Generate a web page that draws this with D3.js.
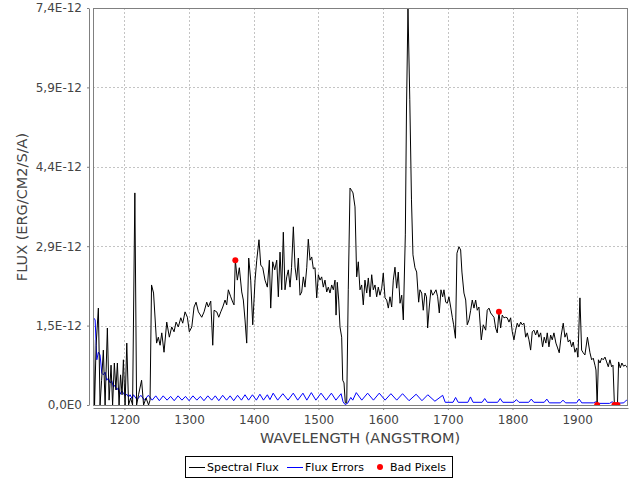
<!DOCTYPE html>
<html><head><meta charset="utf-8">
<script src="https://cdn.jsdelivr.net/npm/d3@7"></script>
<style>body{margin:0;background:#fff}svg{display:block}text{font-family:"DejaVu Sans",sans-serif}</style>
</head><body><svg id="c" width="640" height="480"></svg>
<script>
// ---- data (flux in units of 1E-12 erg/cm2/s/A) ----
const xTicks = [1200,1300,1400,1500,1600,1700,1800,1900];
const yTickValues = [0,1.475,2.95,4.425,5.9,7.375];
const yTickLabels = ["0,0E0","1,5E-12","2,9E-12","4,4E-12","5,9E-12","7,4E-12"];
const seriesNames = ["Spectral Flux","Flux Errors","Bad Pixels"];

const fluxWave = [1152.4,1153.9,1156.3,1159.8,1162.4,1164.8,1167.5,1170.2,1173.7,1176.4,
1179.4,1181.8,1184.5,1186.9,1189.2,1191.8,1194.1,1196.4,1198.5,1201.1,
1203.7,1206.5,1209.6,1212.7,1216.2,1218.9,1221.9,1226.6,1229.7,1233.5,
1237.4,1239.7,1242.0,1245.1,1249.8,1252.5,1255.2,1257.8,1261.3,1265.5,
1269.5,1273.2,1276.8,1279.9,1283.4,1287.2,1290.2,1293.8,1297.4,1300.4,
1304.2,1307.7,1310.8,1314.4,1319.6,1323.2,1327.3,1329.8,1333.5,1336.6,
1338.6,1342.8,1345.9,1349.0,1352.1,1355.6,1358.2,1360.7,1364.4,1367.5,
1369.5,1371.5,1374.6,1377.7,1381.4,1383.9,1386.5,1389.1,1392.2,1395.3,
1398.4,1402.0,1404.6,1408.1,1410.8,1413.9,1417.4,1421.0,1424.1,1426.2,
1429.3,1432.4,1435.5,1438.0,1440.6,1443.2,1445.7,1448.3,1451.0,1453.4,
1456.1,1458.4,1461.2,1463.8,1466.4,1468.9,1471.5,1474.1,1476.6,1479.2,
1481.9,1484.3,1487.0,1489.6,1492.1,1494.7,1497.3,1499.8,1502.4,1505.0,
1507.5,1510.1,1512.8,1515.2,1517.9,1520.5,1523.0,1525.6,1527.2,1529.1,
1531.3,1533.3,1535.9,1537.5,1539.5,1541.5,1543.7,1546.1,1548.8,1551.1,
1553.4,1556.5,1559.1,1561.6,1564.2,1566.8,1569.3,1571.9,1574.6,1577.1,
1579.7,1582.3,1584.8,1587.4,1590.0,1592.5,1595.1,1597.8,1600.2,1602.9,
1605.5,1608.0,1610.6,1613.2,1615.7,1618.3,1620.9,1623.4,1626.1,1628.7,
1631.2,1634.3,1636.1,1638.4,1641.2,1643.8,1646.1,1649.2,1651.8,1654.9,
1656.9,1659.6,1662.0,1664.7,1667.0,1668.8,1671.3,1673.9,1676.6,1679.0,
1681.7,1684.3,1686.8,1689.4,1692.0,1694.0,1696.7,1699.1,1701.7,1704.4,
1706.9,1709.0,1711.8,1714.1,1717.2,1719.8,1721.8,1724.9,1727.6,1730.0,
1732.7,1735.3,1737.8,1740.4,1743.0,1745.5,1748.1,1751.7,1754.8,1758.5,
1760.9,1763.6,1766.2,1768.7,1771.3,1773.9,1776.4,1779.0,1781.6,1784.1,
1786.7,1789.4,1791.8,1794.5,1797.1,1799.6,1802.2,1804.8,1807.3,1809.9,
1812.6,1815.0,1817.7,1820.3,1822.8,1825.4,1828.0,1830.5,1833.1,1835.7,
1838.2,1840.8,1843.5,1846.5,1849.0,1851.6,1853.7,1856.3,1858.9,1861.4,
1864.0,1867.1,1869.7,1872.2,1875.3,1878.4,1881.0,1883.6,1886.1,1888.7,
1891.4,1893.8,1896.5,1899.1,1901.1,1904.2,1906.8,1909.3,1911.9,1915.8,
1919.7,1922.3,1924.8,1927.4,1929.0,1930.8,1932.8,1935.2,1937.8,1940.2,
1942.9,1945.5,1948.0,1950.6,1953.2,1955.3,1957.5,1962.2,1964.0,1966.5,
1969.1,1971.7,1974.2,1976.8,1979.1];
const fluxE12 = [1.21,0,1.11,1.80,0,0.46,1.02,0,1.43,0.09,
0.74,0,0.78,0.28,0.78,0,0.56,0.19,0.84,0,
1.15,0,0.13,0,3.94,0,0.19,0.46,0,0.13,
0,0.09,2.23,2.08,1.15,1.26,1.11,1.34,0.98,1.54,
1.26,1.45,1.36,1.54,1.45,1.62,1.52,1.73,1.63,1.36,
1.45,1.82,1.91,1.73,1.63,1.73,1.91,1.82,1.93,1.11,
1.76,1.73,1.63,1.73,1.82,1.95,1.86,2.14,2.01,1.91,
1.86,2.69,2.32,2.55,2.10,1.95,1.58,1.15,2.73,2.32,
1.49,2.32,2.69,3.07,2.60,2.55,2.32,2.19,2.69,1.80,
2.66,2.51,2.69,2.01,2.84,2.14,3.21,2.14,2.38,2.51,
2.19,2.55,3.31,2.56,2.32,2.73,2.04,2.10,2.38,2.19,
2.55,3.08,2.69,2.75,2.53,2.55,1.99,2.42,2.32,2.38,
2.19,2.32,2.10,2.19,2.08,2.23,2.14,2.32,1.67,2.28,
1.95,1.45,1.26,0.46,0.41,0.04,0.04,2.14,4.03,3.99,
3.94,3.68,2.38,2.66,2.14,2.23,1.86,2.32,2.08,2.36,
2.01,2.42,2.14,2.23,2.01,2.19,2.04,2.17,2.45,1.99,
1.95,1.80,2.01,1.82,2.32,2.56,2.17,2.47,1.89,2.04,
1.58,3.16,5.48,7.37,5.67,3.81,2.79,2.55,2.47,1.91,
2.14,2.08,1.76,2.08,2.01,1.43,1.82,2.14,2.04,2.08,
2.14,2.01,1.71,2.14,2.01,2.14,1.91,1.89,2.01,1.82,
1.63,1.49,1.24,2.82,2.94,2.88,2.47,2.08,1.95,1.49,
1.58,1.76,1.95,1.80,1.95,1.76,1.82,1.21,1.49,1.39,
1.76,1.80,1.71,1.67,1.63,1.43,1.34,1.73,1.43,1.67,
1.62,1.63,1.62,1.54,1.62,1.36,1.21,1.39,1.52,1.45,
1.54,1.49,1.52,1.26,1.34,1.21,1.02,1.36,1.39,1.30,
1.39,1.26,1.34,1.08,1.26,1.15,1.34,1.08,1.30,1.21,
1.34,1.15,1.06,0.97,1.30,1.52,1.26,1.34,1.17,1.21,
1.08,1.17,0.98,1.06,0.89,1.99,1.02,0.97,0.93,1.26,
0.97,0.84,0.87,0.74,0.65,0,0.84,0.78,0.87,0.84,
0.89,0.80,0.71,0.84,0.71,0.74,0,0,0.80,0.69,
0.78,0.72,0.74,0.71,0.65];

const errWave = [1152.4,1154.8,1157.4,1159.8,1162.4,1165.1,1167.5,1170.2,1172.8,1175.3,
1177.9,1180.5,1183.0,1185.6,1188.3,1190.7,1193.4,1196.0,1198.5,1201.1,
1203.7,1206.5,1208.8,1211.9,1214,1219.5,1225.5,1231,1237,1243,
1248.5,1254,1260,1266,1271.5,1277,1283,1289,1294.5,1300,
1306,1312,1317.5,1323,1329,1335,1340.5,1346,1352,1358,
1363.5,1369,1375,1381,1386.5,1392,1398,1404,1409.5,1415,
1421,1425,1430,1437,1445,1453,1461,1468,1476,1482,
1489,1496,1504,1512,1520,1527,1535,1538,1541,1545,
1550,1553,1558.5,1567,1576,1585,1594,1603,1612,1621,
1630,1640,1651,1660,1669,1680,1692,1696,1708,1712,
1716,1731,1735,1739,1753,1757,1761,1777,1781,1785,
1802,1806,1810,1825,1829,1833,1849,1853,1857,1874,
1878,1882,1899,1903,1907,1925,1929,1933,1950,1954,
1958,1972,1976,1979];
const errE12 = [1.62,1.58,0.84,0.98,0.93,0.59,0.56,0.61,0.46,0.50,
0.41,0.45,0.33,0.37,0.28,0.32,0.20,0.26,0.22,0.17,
0.20,0.15,0.19,0.12,0.19,0.10,0.18,0.09,0.18,0.09,
0.17,0.08,0.17,0.09,0.16,0.08,0.17,0.09,0.16,0.08,
0.17,0.09,0.16,0.08,0.17,0.09,0.17,0.08,0.18,0.09,
0.17,0.08,0.18,0.09,0.19,0.09,0.19,0.09,0.20,0.09,
0.19,0.10,0.22,0.09,0.21,0.09,0.22,0.09,0.22,0.09,
0.23,0.09,0.22,0.09,0.22,0.09,0.21,0.06,0.01,0.03,
0.14,0.09,0.23,0.09,0.22,0.09,0.22,0.09,0.21,0.09,
0.21,0.08,0.20,0.08,0.19,0.07,0.18,0.05,0.05,0.14,
0.05,0.05,0.15,0.05,0.05,0.12,0.05,0.05,0.12,0.05,
0.05,0.10,0.05,0.05,0.11,0.05,0.05,0.11,0.04,0.04,
0.09,0.04,0.04,0.11,0.04,0.04,0.06,0.03,0.03,0.06,
0.03,0.04,0.09,0.07];

const badWave = [1371.5,1779.0,1930.8,1957.5,1962.2];
const badE12 = [2.69,1.73,0,0,0];

// ---- chart ----
const svg = d3.select("#c");
const P = {l:93, r:628, t:8, b:405};
const x = d3.scaleLinear().domain([1151.5,1978.5]).range([P.l,P.r]);
const y = d3.scaleLinear().domain([0,7.375]).range([P.b,P.t]);
const axisColor = "#808080", labelColor = "#444444";

svg.append("rect").attr("width",640).attr("height",480).attr("fill","#fff");

// grid
const grid = svg.append("g").attr("stroke","#c4c4c4").attr("stroke-dasharray","2,2").attr("stroke-width",1);
grid.selectAll(".gx").data(xTicks).join("line")
  .attr("x1",d=>Math.round(x(d))+0.5).attr("x2",d=>Math.round(x(d))+0.5)
  .attr("y1",P.t).attr("y2",P.b);
grid.selectAll(".gy").data(yTickValues.slice(1,-1)).join("line")
  .attr("y1",d=>Math.round(y(d))+0.5).attr("y2",d=>Math.round(y(d))+0.5)
  .attr("x1",P.l).attr("x2",P.r);

// clip
svg.append("clipPath").attr("id","clip").append("rect")
  .attr("x",P.l).attr("y",P.t).attr("width",P.r-P.l).attr("height",P.b-P.t+1);
const plot = svg.append("g").attr("clip-path","url(#clip)");

const errData = errWave.map((w,i)=>[w,errE12[i]]);
const fluxData = fluxWave.map((w,i)=>[w,fluxE12[i]]);
const badData = badWave.map((w,i)=>[w,badE12[i]]);
const line = d3.line().x(d=>x(d[0])).y(d=>y(d[1]));

plot.append("path").datum(errData).attr("d",line)
  .attr("fill","none").attr("stroke","#0000ff").attr("stroke-width",1);
plot.append("path").datum(fluxData).attr("d",line)
  .attr("fill","none").attr("stroke","#000").attr("stroke-width",1).attr("stroke-linejoin","round");
plot.selectAll("circle").data(badData).join("circle")
  .attr("cx",d=>x(d[0])).attr("cy",d=>y(d[1])).attr("r",3).attr("fill","#ff0000");

// plot outline
svg.append("rect").attr("x",P.l+0.5).attr("y",P.t+0.5).attr("width",P.r-P.l-1).attr("height",P.b-P.t)
  .attr("fill","none").attr("stroke",axisColor).attr("stroke-width",1);

// axes
const xAxis = svg.append("g").attr("transform","translate(0,408)")
  .call(d3.axisBottom(x).tickValues(xTicks).tickFormat(d3.format("d")).tickSize(2).tickSizeOuter(0).tickPadding(5));
const yAxis = svg.append("g").attr("transform","translate(89,0)")
  .call(d3.axisLeft(y).tickValues(yTickValues).tickFormat((d,i)=>yTickLabels[i]).tickSize(2).tickSizeOuter(0).tickPadding(5));
[xAxis,yAxis].forEach(a=>{
  a.select(".domain").attr("stroke",axisColor);
  a.selectAll(".tick line").attr("stroke",axisColor);
  a.selectAll(".tick text").attr("fill",labelColor).attr("font-size",12).attr("font-family","DejaVu Sans, sans-serif");
});

// axis labels
svg.append("text").attr("x",360).attr("y",443).attr("text-anchor","middle")
  .attr("font-size",14.5).attr("fill",labelColor).text("WAVELENGTH (ANGSTROM)");
svg.append("text").attr("transform","translate(27,207) rotate(-90)").attr("text-anchor","middle")
  .attr("font-size",14.5).attr("fill",labelColor).text("FLUX (ERG/CM2/S/A)");

// legend
const lg = svg.append("g");
lg.append("rect").attr("x",185.5).attr("y",456.5).attr("width",267).attr("height",21)
  .attr("fill","#fff").attr("stroke","#000");
const items = [
  {name:seriesNames[0], type:"line", color:"#000", x:189},
  {name:seriesNames[1], type:"line", color:"#0000ff", x:287},
  {name:seriesNames[2], type:"dot", color:"#ff0000", x:375}
];
items.forEach(it=>{
  if(it.type==="line"){
    lg.append("line").attr("x1",it.x).attr("x2",it.x+16).attr("y1",467.5).attr("y2",467.5)
      .attr("stroke",it.color).attr("stroke-width",1);
    lg.append("text").attr("x",it.x+18).attr("y",471).attr("font-size",11).attr("fill","#000").text(it.name);
  } else {
    lg.append("circle").attr("cx",it.x+5).attr("cy",467).attr("r",3).attr("fill",it.color);
    lg.append("text").attr("x",it.x+15).attr("y",471).attr("font-size",11).attr("fill","#000").text(it.name);
  }
});
</script></body></html>
